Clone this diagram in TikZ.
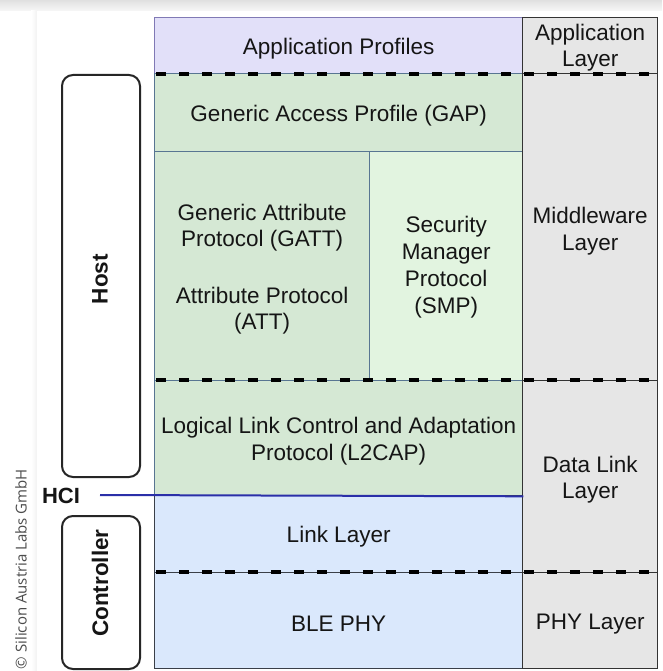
\documentclass[tikz,border=0pt]{standalone}
\usepackage{fontspec}
\setmainfont{Liberation Sans}
\newfontfamily\credfont{Open Sans}
\definecolor{lavfill}{HTML}{E2E0F9}
\definecolor{lavdraw}{HTML}{8079B5}
\definecolor{grnfill}{HTML}{D5E8D4}
\definecolor{grnlight}{HTML}{E2F4E0}
\definecolor{grndraw}{HTML}{587592}
\definecolor{blufill}{HTML}{DAE8FC}
\definecolor{bludraw}{HTML}{3A3F48}
\definecolor{grayfill}{HTML}{E6E6E6}
\definecolor{graydraw}{HTML}{333333}
\definecolor{hciblue}{HTML}{2A2FA8}
\definecolor{txt}{HTML}{151515}
\begin{document}
\begin{tikzpicture}[x=1pt,y=-1pt,
  box/.style={draw, line width=1.3pt, rectangle, anchor=north west, inner sep=0pt},
  lavbox/.style={box, fill=lavfill, draw=lavdraw},
  grnbox/.style={box, fill=grnfill, draw=grndraw},
  smpbox/.style={box, fill=grnlight, draw=grndraw},
  blubox/.style={box, fill=blufill, draw=bludraw},
  laybox/.style={box, fill=grayfill, draw=graydraw, minimum width=135},
  boxtext/.style={align=center, text=txt, inner sep=0pt, font=\fontsize{22.5}{26.7}\selectfont},
  sep/.style={line width=3.6pt, draw=black, dash pattern=on 10pt off 13pt, dash phase=-2pt},
  roundbox/.style={draw=black!85, line width=2pt, rounded corners=11pt, fill=white,
    anchor=north west, minimum width=78, inner sep=0pt},
  sidelbl/.style={rotate=90, font=\fontsize{22.5}{26}\selectfont\bfseries, text=txt, inner sep=0pt},
  hcil/.style={line width=2pt, draw=hciblue}
]
\useasboundingbox (0,0) rectangle (662,671);
\fill[white] (0,0) rectangle (662,671);
\shade[top color=black!12, bottom color=black!3] (0,0) rectangle (662,11);
\shade[left color=white, right color=black!5] (31,11) rectangle (37,671);
\fill[white] (37,11) rectangle (662,671);

% main stack
\node[lavbox, minimum width=368, minimum height=56] (ap) at (154,17) {};
\node[grnbox, minimum width=368, minimum height=78] (gap) at (154,73) {};
\node[grnbox, minimum width=215, minimum height=229] (gatt) at (154,151) {};
\node[smpbox, minimum width=153, minimum height=229] (smp) at (369,151) {};
\node[grnbox, minimum width=368, minimum height=115] (l2cap) at (154,380) {};
\node[blubox, minimum width=368, minimum height=77] (ll) at (154,495) {};
\node[blubox, minimum width=368, minimum height=96] (phy) at (154,572) {};

% layer column
\node[laybox, minimum height=56] (al) at (522,17) {};
\node[laybox, minimum height=307] (mw) at (522,73) {};
\node[laybox, minimum height=192] (dl) at (522,380) {};
\node[laybox, minimum height=96] (pl) at (522,572) {};

% texts
\node[boxtext] (apt) at ([yshift=-3pt]ap.center) {Application Profiles};
\node[boxtext] (gapt) at ([yshift=-3pt]gap.center) {Generic Access Profile (GAP)};
\node[boxtext] (gattt) at ([yshift=-3pt]gatt.center)
  {Generic Attribute\\Protocol (GATT)\\[29.5pt]Attribute Protocol\\(ATT)};
\node[boxtext] (smpt) at ([yshift=-1pt]smp.center) {Security\\Manager\\Protocol\\(SMP)};
\node[boxtext] (l2capt) at ([yshift=-3pt]l2cap.center) {Logical Link Control and Adaptation\\Protocol (L2CAP)};
\node[boxtext] (llt) at ([yshift=-3pt]ll.center) {Link Layer};
\node[boxtext] (phyt) at ([yshift=-3pt]phy.center) {BLE PHY};
\node[boxtext] (alt) at ([yshift=-2pt]al.center) {Application\\Layer};
\node[boxtext] (mwt) at ([yshift=-4pt]mw.center) {Middleware\\Layer};
\node[boxtext] (dlt) at ([yshift=-3pt]dl.center) {Data Link\\Layer};
\node[boxtext] (plt) at ([yshift=-3pt]pl.center) {PHY Layer};

% dashed separators
\draw[sep] (ap.south west) -- (al.south east);
\draw[sep] (l2cap.north west) -- (dl.north east);
\draw[sep] (phy.north west) -- (pl.north east);

% host / controller
\node[roundbox, minimum height=402] (host) at (61,74) {};
\node[roundbox, minimum height=153] (ctrl) at (61,515) {};
\node[sidelbl] (hostlbl) at (100,279) {Host};
\node[sidelbl] (ctrllbl) at (100,583) {Controller};

% HCI
\node[font=\fontsize{22}{26}\selectfont\bfseries, text=txt, inner sep=0pt] (hci) at (61,496) {HCI};
\coordinate (hcistart) at (100,495);
\draw[hcil] (hcistart) -- (l2cap.south east);

% credit
\node[rotate=90, font=\credfont\fontsize{15}{18}\selectfont, text=black!70, inner sep=0pt] (cred) at (21,569)
  {© Silicon Austria Labs GmbH};
\end{tikzpicture}
\end{document}
